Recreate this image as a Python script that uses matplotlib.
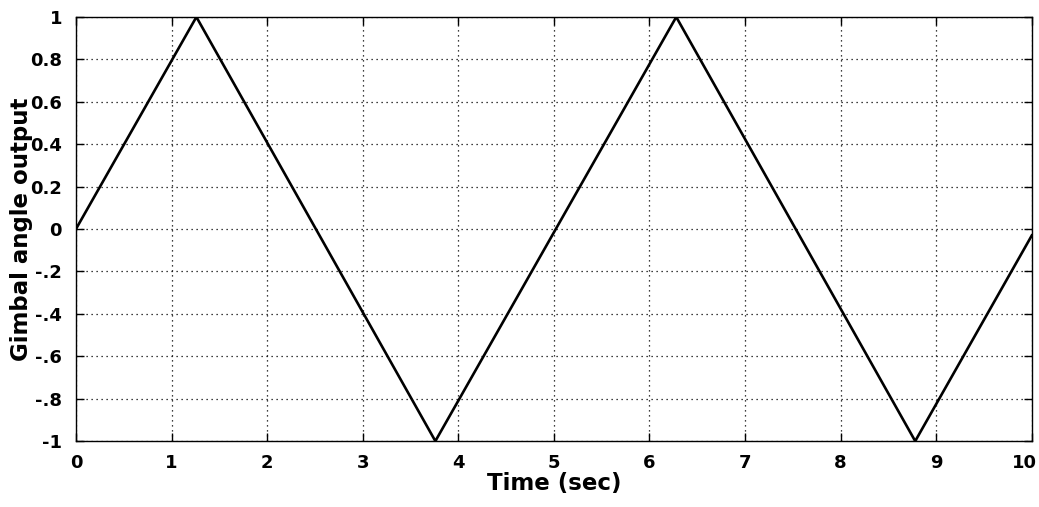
import matplotlib.pyplot as plt
from matplotlib.transforms import ScaledTranslation

# vertices of the triangle wave
t = [0, 1.26, 3.76, 6.28, 8.78, 10]
gimbal = [0, 1, -1, 1, -1, -0.03]

xticks = [0, 1, 2, 3, 4, 5, 6, 7, 8, 9, 10]
yticks = [1, 0.8, 0.6, 0.4, 0.2, 0, -0.2, -0.4, -0.6, -0.8, -1]
ylabels = ['1', '0.8', '0.6', '0.4', '0.2', '0', '-.2', '-.4', '-.6', '-.8', '-1']

plt.rcParams['font.family'] = ['DejaVu Sans']
fig = plt.figure(figsize=(10.39, 5.07), dpi=100)
ax = fig.add_axes([0.0731, 0.130, 0.920, 0.8365])
ax.plot(t, gimbal, color='black', lw=1.9)
ax.set_xlim(0, 10)
ax.set_ylim(-1, 1)
ax.set_xticks(xticks)
ax.set_yticks(yticks)
ax.set_yticklabels(ylabels)
ax.grid(True, color='black', linestyle=(0, (1, 3)), lw=0.9)
ax.tick_params(direction='in', top=True, right=True, length=6, width=1, labelsize=13)
ax.tick_params(axis='y', pad=10)
ax.tick_params(axis='x', pad=9)
for lab in ax.get_xticklabels() + ax.get_yticklabels():
    lab.set_fontweight('bold')
# last x label sits a bit left so it stays inside the figure
last = ax.get_xticklabels()[-1]
last.set_transform(last.get_transform() + ScaledTranslation(-7 / 100, 0, fig.dpi_scale_trans))
ax.set_xlabel('Time (sec)', fontsize=16.5, fontweight='bold', va='top')
ax.set_ylabel('Gimbal angle output', fontsize=16.5, fontweight='bold', va='center')
ax.xaxis.set_label_coords(0.5, -0.073)
ax.yaxis.set_label_coords(-0.057, 0.5)
for s in ax.spines.values():
    s.set_linewidth(1)
fig.savefig('out.png', dpi=100)
